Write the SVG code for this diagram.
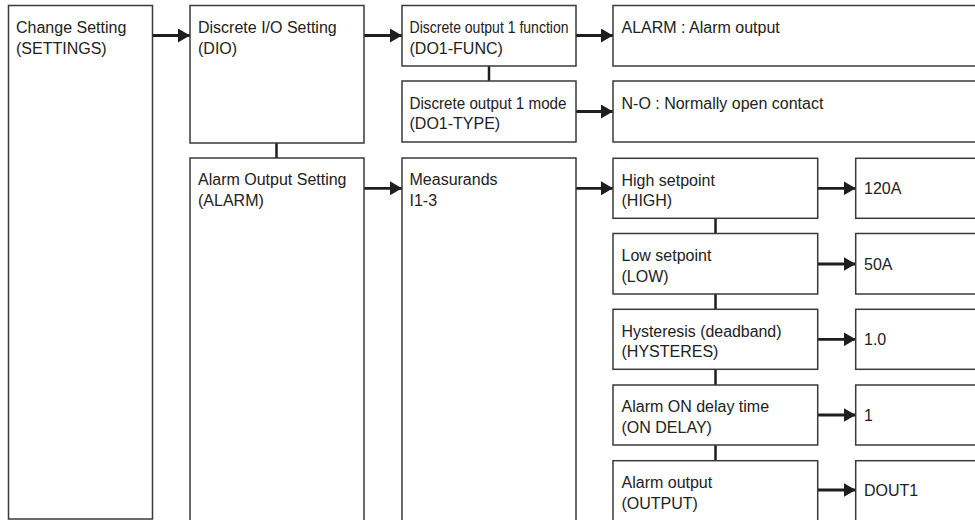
<svg xmlns="http://www.w3.org/2000/svg" width="975" height="520" viewBox="0 0 975 520">
<defs>
<style>
.box{fill:#fff;stroke:#3a3a3a;stroke-width:1.5}
.t{font-family:"Liberation Sans",Arial,sans-serif;font-size:16px;fill:#222}
.c{stroke:#1e1e1e;stroke-width:2.5;fill:none}
.a{stroke:#1e1e1e;stroke-width:2.8;fill:none;marker-end:url(#ah)}
</style>
<marker id="ah" markerUnits="userSpaceOnUse" markerWidth="13" markerHeight="14" refX="12" refY="7" orient="auto">
<path d="M0,0 L12,7 L0,14 Z" fill="#1e1e1e"/>
</marker>
</defs>
<rect width="975" height="520" fill="#fff"/>
<g id="connectors">
<line class="a" x1="152" y1="35.5" x2="190" y2="35.5"/>
<line class="a" x1="364" y1="35.5" x2="402" y2="35.5"/>
<line class="a" x1="576" y1="35.5" x2="613" y2="35.5"/>
<line class="a" x1="576" y1="111.5" x2="613" y2="111.5"/>
<line class="c" x1="489" y1="66" x2="489" y2="81"/>
<line class="c" x1="276.5" y1="143" x2="276.5" y2="158"/>
<line class="a" x1="364" y1="188.3" x2="402" y2="188.3"/>
<line class="a" x1="576" y1="188.3" x2="613" y2="188.3"/>
<line class="c" x1="715.5" y1="218.3" x2="715.5" y2="233.5"/>
<line class="c" x1="715.5" y1="294" x2="715.5" y2="309.3"/>
<line class="c" x1="715.5" y1="369.3" x2="715.5" y2="385"/>
<line class="c" x1="715.5" y1="445" x2="715.5" y2="460.7"/>
<line class="a" x1="817.7" y1="188.3" x2="855.7" y2="188.3"/>
<line class="a" x1="817.7" y1="264" x2="855.7" y2="264"/>
<line class="a" x1="817.7" y1="339.3" x2="855.7" y2="339.3"/>
<line class="a" x1="817.7" y1="415" x2="855.7" y2="415"/>
<line class="a" x1="817.7" y1="490" x2="855.7" y2="490"/>
</g>
<g id="n_settings">
<rect class="box" x="8.5" y="5.5" width="144" height="513.5"/>
<text class="t" x="16" y="33.3">Change Setting</text>
<text class="t" x="16" y="53.8">(SETTINGS)</text>
</g>
<g id="n_dio">
<rect class="box" x="190" y="5.5" width="174" height="137.5"/>
<text class="t" x="198" y="33.3">Discrete I/O Setting</text>
<text class="t" x="198" y="53.8">(DIO)</text>
</g>
<g id="n_alarm">
<rect class="box" x="190" y="158" width="174" height="370"/>
<text class="t" x="198" y="185">Alarm Output Setting</text>
<text class="t" x="198" y="205.5">(ALARM)</text>
</g>
<g id="n_do1func">
<rect class="box" x="402" y="5.5" width="174" height="60.5"/>
<text class="t" x="409.5" y="33.3" textLength="159" lengthAdjust="spacingAndGlyphs">Discrete output 1 function</text>
<text class="t" x="409.5" y="53.8">(DO1-FUNC)</text>
</g>
<g id="n_do1type">
<rect class="box" x="402" y="81" width="174" height="61"/>
<text class="t" x="409.5" y="108.5" textLength="157" lengthAdjust="spacingAndGlyphs">Discrete output 1 mode</text>
<text class="t" x="409.5" y="129">(DO1-TYPE)</text>
</g>
<g id="n_meas">
<rect class="box" x="402" y="158" width="174" height="370"/>
<text class="t" x="409.5" y="185">Measurands</text>
<text class="t" x="409.5" y="205.5">I1-3</text>
</g>
<g id="n_alarmfunc">
<rect class="box" x="613" y="5.5" width="380" height="60.5"/>
<text class="t" x="621.5" y="33.3">ALARM : Alarm output</text>
</g>
<g id="n_no">
<rect class="box" x="613" y="81" width="380" height="61"/>
<text class="t" x="621.5" y="108.5">N-O : Normally open contact</text>
</g>
<g id="n_high">
<rect class="box" x="613" y="158.3" width="204.7" height="60"/>
<text class="t" x="621.5" y="185.7">High setpoint</text>
<text class="t" x="621.5" y="206.2">(HIGH)</text>
</g>
<g id="n_low">
<rect class="box" x="613" y="233.5" width="204.7" height="60.5"/>
<text class="t" x="621.5" y="261">Low setpoint</text>
<text class="t" x="621.5" y="281.5">(LOW)</text>
</g>
<g id="n_hyst">
<rect class="box" x="613" y="309.3" width="204.7" height="60"/>
<text class="t" x="621.5" y="336.7" textLength="160" lengthAdjust="spacingAndGlyphs">Hysteresis (deadband)</text>
<text class="t" x="621.5" y="357.2">(HYSTERES)</text>
</g>
<g id="n_delay">
<rect class="box" x="613" y="385" width="204.7" height="60"/>
<text class="t" x="621.5" y="412.4">Alarm ON delay time</text>
<text class="t" x="621.5" y="432.9">(ON DELAY)</text>
</g>
<g id="n_output">
<rect class="box" x="613" y="460.7" width="204.7" height="70"/>
<text class="t" x="621.5" y="488">Alarm output</text>
<text class="t" x="621.5" y="508.5">(OUTPUT)</text>
</g>
<g id="v_high">
<rect class="box" x="855.7" y="158.3" width="130" height="60"/>
<text class="t" x="864" y="193.8">120A</text>
</g>
<g id="v_low">
<rect class="box" x="855.7" y="233.5" width="130" height="60.5"/>
<text class="t" x="864" y="269.5">50A</text>
</g>
<g id="v_hyst">
<rect class="box" x="855.7" y="309.3" width="130" height="60"/>
<text class="t" x="864" y="344.8">1.0</text>
</g>
<g id="v_delay">
<rect class="box" x="855.7" y="385" width="130" height="60"/>
<text class="t" x="864" y="420.5">1</text>
</g>
<g id="v_output">
<rect class="box" x="855.7" y="460.7" width="130" height="70"/>
<text class="t" x="864" y="495.5">DOUT1</text>
</g>
</svg>
